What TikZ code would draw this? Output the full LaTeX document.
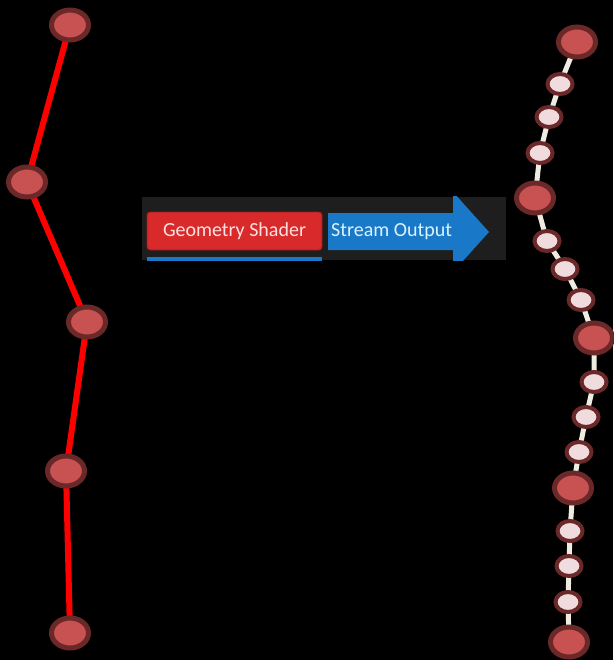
\documentclass[tikz,border=0pt]{standalone}
\usepackage{fontspec}
\setmainfont{Carlito}
\usetikzlibrary{shapes.geometric}
\definecolor{bigfill}{HTML}{C85252}
\definecolor{rim}{HTML}{6A2828}
\definecolor{smallfill}{HTML}{F0DCDE}
\definecolor{cream}{HTML}{EEEBE0}
\definecolor{banner}{HTML}{1E1E1E}
\definecolor{gsred}{HTML}{D82A2A}
\definecolor{soblue}{HTML}{1A78C8}
\begin{document}
\begin{tikzpicture}[x=1pt,y=-1pt,
  bigv/.style={ellipse,draw=rim,fill=bigfill,line width=5pt,minimum width=37pt,minimum height=30pt,inner sep=0pt},
  smallv/.style={ellipse,draw=rim,fill=smallfill,line width=4pt,minimum width=25pt,minimum height=20pt,inner sep=0pt},
  redline/.style={draw=red,line width=6pt},
  creamline/.style={draw=cream,line width=5pt},
  lbl/.style={font=\fontsize{20}{22}\selectfont}]
\fill[black] (0,0) rectangle (613,660);
\useasboundingbox (0,0) rectangle (613,660);
% left chain
\coordinate (l1) at (70,25);
\coordinate (l2) at (27,182);
\coordinate (l3) at (87,322);
\coordinate (l4) at (66,471);
\coordinate (l5) at (70,633);
\draw[redline] (l1) -- (l2) -- (l3) -- (l4) -- (l5);
\foreach \n in {l1,l2,l3,l4,l5} \node[bigv] (\n n) at (\n) {};
% right chain
\coordinate (r1) at (577,42);
\coordinate (s1) at (560,84);
\coordinate (s2) at (549,117);
\coordinate (s3) at (540,153);
\coordinate (r2) at (535,198);
\coordinate (s4) at (547,241);
\coordinate (s5) at (565,269);
\coordinate (s6) at (581,300);
\coordinate (r3) at (594,338);
\coordinate (s7) at (594,382);
\coordinate (s8) at (586,417);
\coordinate (s9) at (579,452);
\coordinate (r4) at (573,488);
\coordinate (s10) at (570,531);
\coordinate (s11) at (569,566);
\coordinate (s12) at (568,602);
\coordinate (r5) at (569,642);
\draw[creamline] (r1) -- (s1) -- (s2) -- (s3) -- (r2) -- (s4) -- (s5) -- (s6) -- (r3) -- (s7) -- (s8) -- (s9) -- (r4) -- (s10) -- (s11) -- (s12) -- (r5);
\foreach \n in {s1,s2,s3,s4,s5,s6,s7,s8,s9,s10,s11,s12} \node[smallv] (\n n) at (\n) {};
\foreach \n in {r1,r2,r3,r4,r5} \node[bigv] (\n n) at (\n) {};
% banner
\begin{scope}
\clip (142,197) rectangle (506,260);
\fill[banner] (142,197) rectangle (506,260);
\fill[soblue] (147,257) rectangle (322,264);
\fill[soblue] (328,213) -- (453,213) -- (453,192) -- (489,232) -- (453,272) -- (453,250) -- (328,250) -- cycle;
\end{scope}
\node[draw=gsred!70!black,line width=0.8pt,fill=gsred,rounded corners=3pt,minimum width=175pt,minimum height=38pt,inner sep=0pt,
  text=white!88!red,lbl] (gs) at (234.5,231) {Geometry Shader};
\node[anchor=west,text=white!85!cyan,lbl,inner sep=0pt] (so) at (331,232) {Stream Output};
\end{tikzpicture}
\end{document}
